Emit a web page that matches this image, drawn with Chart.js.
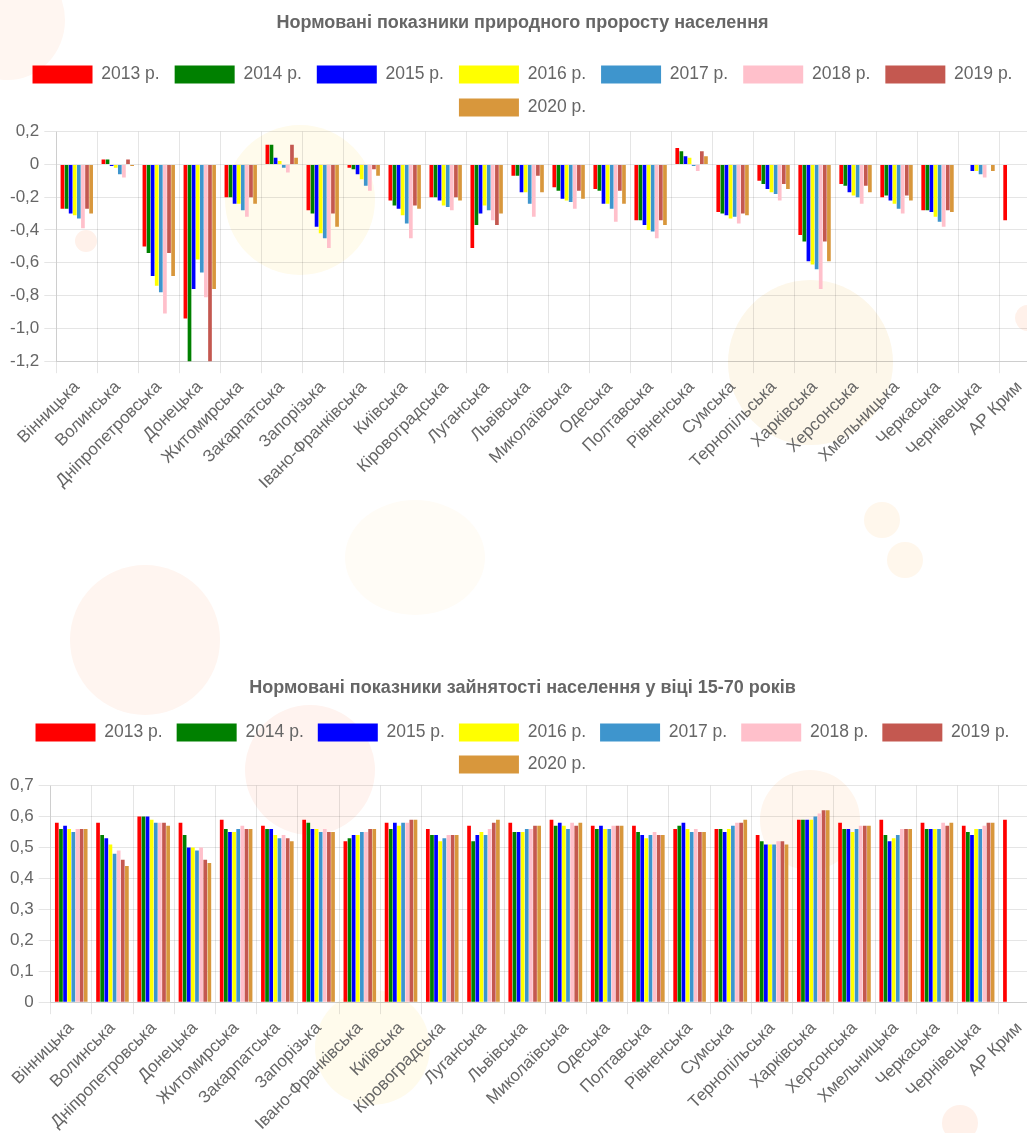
<!DOCTYPE html>
<html>
<head>
<meta charset="utf-8">
<script src="https://cdn.jsdelivr.net/npm/chart.js@4/dist/chart.umd.min.js"></script>
<style>
  html, body { margin: 0; padding: 0; background: #fff; overflow: hidden; }
  body { position: relative; width: 1027px; height: 1133px; }
  .dot { position: absolute; border-radius: 50%; }
  .box { position: absolute; left: 0; width: 1040px; }
  #box1 { top: 0; height: 497px; }
  #box2 { top: 665px; height: 473px; }
</style>
</head>
<body>
<div class="dot" style="left:-50px;top:-40px;width:115px;height:120px;background:#fff6f1"></div>
<div class="dot" style="left:225px;top:125px;width:150px;height:150px;background:#fffbec"></div>
<div class="dot" style="left:75px;top:230px;width:22px;height:22px;background:#fff1ea"></div>
<div class="dot" style="left:728px;top:280px;width:165px;height:165px;background:#fdf7ea"></div>
<div class="dot" style="left:1015px;top:305px;width:26px;height:26px;background:#fff1ea"></div>
<div class="dot" style="left:864px;top:502px;width:36px;height:36px;background:#fff7ec"></div>
<div class="dot" style="left:887px;top:542px;width:36px;height:36px;background:#fff7ec"></div>
<div class="dot" style="left:70px;top:565px;width:150px;height:150px;background:#fff5f0"></div>
<div class="dot" style="left:345px;top:500px;width:140px;height:115px;background:#fffcf6"></div>
<div class="dot" style="left:245px;top:705px;width:130px;height:130px;background:#fff3ef"></div>
<div class="dot" style="left:760px;top:770px;width:100px;height:100px;background:#fff6ee"></div>
<div class="dot" style="left:315px;top:990px;width:115px;height:115px;background:#fffbec"></div>
<div class="dot" style="left:942px;top:1105px;width:36px;height:36px;background:#fff1ea"></div>
<div class="box" id="box1"><canvas id="growth"></canvas></div>
<div class="box" id="box2"><canvas id="employ"></canvas></div>
<script>
var regions = ['Вінницька', 'Волинська', 'Дніпропетровська', 'Донецька', 'Житомирська',
    'Закарпатська', 'Запорізька', 'Івано-Франківська', 'Київська', 'Кіровоградська',
    'Луганська', 'Львівська', 'Миколаївська', 'Одеська', 'Полтавська', 'Рівненська',
    'Сумська', 'Тернопільська', 'Харківська', 'Херсонська', 'Хмельницька', 'Черкаська',
    'Чернівецька', 'АР Крим'];
var years = ['2013 р.', '2014 р.', '2015 р.', '2016 р.', '2017 р.', '2018 р.', '2019 р.', '2020 р.'];
var colors = ['#ff0000', '#008000', '#0000ff', '#ffff00', '#3e95cd', '#ffc0cb', '#c45850', '#d8973c'];

// природний приріст
var growth2013 = [-0.27, 0.03, -0.50, -0.94, -0.20, 0.12, -0.28, -0.02, -0.22, -0.20, -0.51, -0.07, -0.14, -0.15, -0.34, 0.10, -0.29, -0.10, -0.43, -0.12, -0.20, -0.28, 0, -0.34];
var growth2014 = [-0.27, 0.03, -0.54, -1.25, -0.20, 0.12, -0.30, -0.03, -0.25, -0.20, -0.37, -0.07, -0.16, -0.16, -0.34, 0.08, -0.30, -0.12, -0.47, -0.13, -0.19, -0.28, 0, null];
var growth2015 = [-0.30, -0.01, -0.68, -0.76, -0.24, 0.04, -0.38, -0.06, -0.27, -0.22, -0.30, -0.17, -0.21, -0.24, -0.37, 0.05, -0.31, -0.15, -0.59, -0.17, -0.22, -0.29, -0.04, null];
var growth2016 = [-0.31, -0.02, -0.74, -0.58, -0.24, 0.02, -0.42, -0.09, -0.31, -0.25, -0.25, -0.17, -0.22, -0.24, -0.40, 0.04, -0.33, -0.17, -0.61, -0.19, -0.24, -0.32, -0.04, null];
var growth2017 = [-0.33, -0.06, -0.78, -0.66, -0.28, -0.02, -0.45, -0.13, -0.36, -0.26, -0.28, -0.24, -0.23, -0.27, -0.41, -0.01, -0.32, -0.18, -0.64, -0.20, -0.27, -0.35, -0.06, null];
var growth2018 = [-0.39, -0.08, -0.91, -0.81, -0.32, -0.05, -0.51, -0.16, -0.45, -0.28, -0.34, -0.32, -0.27, -0.35, -0.45, -0.04, -0.36, -0.22, -0.76, -0.24, -0.30, -0.38, -0.08, null];
var growth2019 = [-0.27, 0.03, -0.54, -1.22, -0.20, 0.12, -0.30, -0.03, -0.25, -0.20, -0.37, -0.07, -0.16, -0.16, -0.34, 0.08, -0.30, -0.12, -0.47, -0.13, -0.19, -0.28, 0, null];
var growth2020 = [-0.30, -0.01, -0.68, -0.76, -0.24, 0.04, -0.38, -0.07, -0.27, -0.22, -0.30, -0.17, -0.21, -0.24, -0.37, 0.05, -0.31, -0.15, -0.59, -0.17, -0.22, -0.29, -0.04, null];

// зайнятість 15-70
var employ2013 = [0.58, 0.58, 0.60, 0.58, 0.59, 0.57, 0.59, 0.52, 0.58, 0.56, 0.57, 0.58, 0.59, 0.57, 0.57, 0.56, 0.56, 0.54, 0.59, 0.58, 0.59, 0.58, 0.57, 0.59];
var employ2014 = [0.56, 0.54, 0.60, 0.54, 0.56, 0.56, 0.58, 0.53, 0.56, 0.54, 0.52, 0.55, 0.57, 0.56, 0.55, 0.57, 0.56, 0.52, 0.59, 0.56, 0.54, 0.56, 0.55, null];
var employ2015 = [0.57, 0.53, 0.60, 0.50, 0.55, 0.56, 0.56, 0.54, 0.58, 0.54, 0.54, 0.55, 0.58, 0.57, 0.54, 0.58, 0.55, 0.51, 0.59, 0.56, 0.52, 0.56, 0.54, null];
var employ2016 = [0.56, 0.51, 0.59, 0.50, 0.55, 0.54, 0.56, 0.54, 0.57, 0.52, 0.55, 0.55, 0.57, 0.56, 0.53, 0.56, 0.56, 0.51, 0.59, 0.55, 0.53, 0.56, 0.56, null];
var employ2017 = [0.55, 0.48, 0.58, 0.49, 0.56, 0.53, 0.55, 0.55, 0.58, 0.53, 0.54, 0.56, 0.56, 0.56, 0.54, 0.55, 0.57, 0.51, 0.60, 0.56, 0.54, 0.56, 0.56, null];
var employ2018 = [0.56, 0.49, 0.58, 0.50, 0.57, 0.54, 0.56, 0.55, 0.58, 0.54, 0.56, 0.56, 0.58, 0.57, 0.55, 0.56, 0.58, 0.52, 0.61, 0.57, 0.56, 0.58, 0.57, null];
var employ2019 = [0.56, 0.46, 0.58, 0.46, 0.56, 0.53, 0.55, 0.56, 0.59, 0.54, 0.58, 0.57, 0.57, 0.57, 0.54, 0.55, 0.58, 0.52, 0.62, 0.57, 0.56, 0.57, 0.58, null];
var employ2020 = [0.56, 0.44, 0.57, 0.45, 0.56, 0.52, 0.55, 0.56, 0.59, 0.54, 0.59, 0.57, 0.58, 0.57, 0.54, 0.55, 0.59, 0.51, 0.62, 0.57, 0.56, 0.58, 0.58, null];

var growthData = [growth2013, growth2014, growth2015, growth2016, growth2017, growth2018, growth2019, growth2020];
var employData = [employ2013, employ2014, employ2015, employ2016, employ2017, employ2018, employ2019, employ2020];

Chart.defaults.font.family = '"Liberation Sans", Arial, sans-serif';
Chart.defaults.font.size = 17;
Chart.defaults.color = '#666';

function makeSets(series) {
    return series.map(function (vals, i) {
        return {
            label: years[i],
            data: vals,
            backgroundColor: colors[i],
            borderColor: colors[i],
            borderWidth: 0
        };
    });
}

function commaTick(value) {
    var v = Math.round(value * 10) / 10;
    if (v === 0) return '0';
    return v.toFixed(1).replace('.', ',');
}

// extra room under the legend
function legendGap(px) {
    return {
        id: 'legendGap',
        beforeInit: function (chart) {
            var fit = chart.legend.fit;
            chart.legend.fit = function () {
                fit.bind(chart.legend)();
                this.height += px;
            };
        }
    };
}

function makeChart(id, title, series, min, max, step, titleGap, legendPad, extra) {
    return new Chart(document.getElementById(id).getContext('2d'), {
        type: 'bar',
        data: {
            labels: regions,
            datasets: makeSets(series)
        },
        plugins: [legendGap(extra)],
        options: {
            responsive: true,
            maintainAspectRatio: false,
            animation: false,
            layout: { padding: { left: 5 } },
            plugins: {
                title: {
                    display: true,
                    text: title,
                    color: '#666',
                    font: { size: 18, weight: 'bold' },
                    padding: { top: 12, bottom: titleGap }
                },
                legend: {
                    labels: {
                        boxWidth: 60,
                        boxHeight: 18,
                        padding: legendPad,
                        font: { size: 17.5 }
                    }
                },
                tooltip: { enabled: false }
            },
            scales: {
                x: {
                    grid: { tickLength: 12 },
                    ticks: { autoSkip: false, minRotation: 45, maxRotation: 45, padding: 4 }
                },
                y: {
                    min: min,
                    max: max,
                    grid: { tickLength: 12 },
                    ticks: { stepSize: step, padding: 5, callback: commaTick }
                }
            }
        }
    });
}

makeChart('growth', 'Нормовані показники природного проросту населення', growthData, -1.2, 0.2, 0.2, 17, 15, 5);
makeChart('employ', 'Нормовані показники зайнятості населення у віці 15-70 років', employData, 0, 0.7, 0.1, 11, 14, 2);
</script>
</body>
</html>
